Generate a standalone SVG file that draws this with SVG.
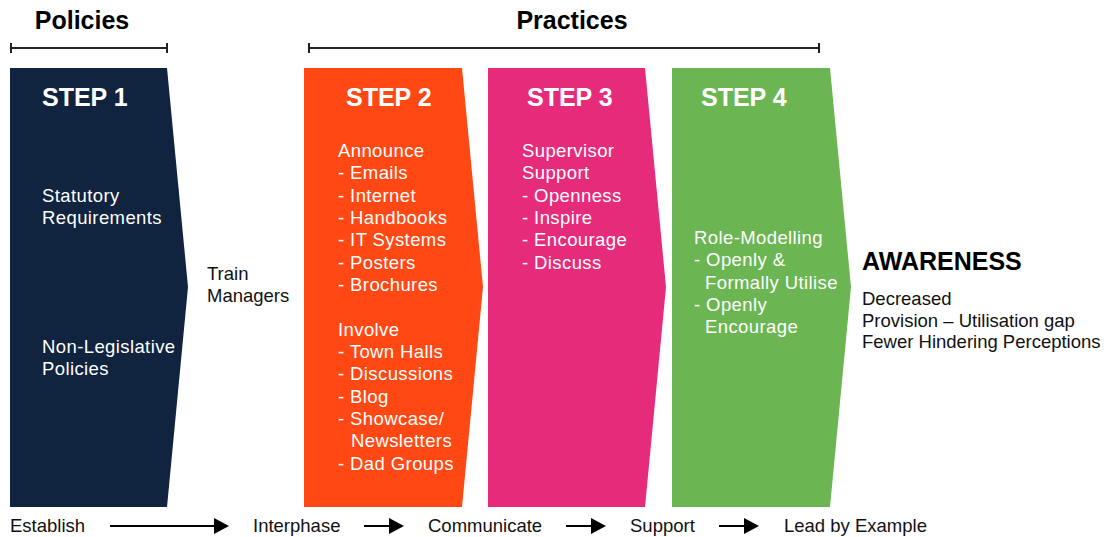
<svg xmlns="http://www.w3.org/2000/svg" width="1108" height="537" viewBox="0 0 1108 537">
<style>
text{font-family:"Liberation Sans",Arial,sans-serif}
.title{font-size:25px;font-weight:bold;fill:#000}
.step{font-size:25px;font-weight:bold;fill:#fff}
.w{font-size:18.5px;fill:#fff;letter-spacing:0.4px}
.k{font-size:18.5px;fill:#111}
.br{stroke:#222;stroke-width:2;fill:none}
.ar{stroke:#000;stroke-width:2;fill:none}
</style>
<defs>
<marker id="ah" markerWidth="15" markerHeight="16" refX="0" refY="8" orient="auto" markerUnits="userSpaceOnUse">
<path d="M0,0 L15,8 L0,16 Z" fill="#000"/>
</marker>
</defs>
<rect width="1108" height="537" fill="#fff"/>

<g id="policies">
<text class="title" x="82" y="29" text-anchor="middle">Policies</text>
<path class="br" d="M11,48 H167 M11,43 V53 M167,43 V53"/>
</g>
<g id="practices">
<text class="title" x="572" y="29" text-anchor="middle">Practices</text>
<path class="br" d="M309,48 H819 M309,43 V53 M819,43 V53"/>
</g>

<g id="step1">
<path d="M10,68 H167 L188,287 L167,507 H10 Z" fill="#10233F"/>
<text class="step" x="42" y="106">STEP 1</text>
<text class="w" x="42" y="202">Statutory</text>
<text class="w" x="42" y="224">Requirements</text>
<text class="w" x="42" y="353">Non-Legislative</text>
<text class="w" x="42" y="375">Policies</text>
</g>

<g id="interphase">
<text class="k" x="207" y="280">Train</text>
<text class="k" x="207" y="302">Managers</text>
</g>

<g id="step2">
<path d="M304,68 H462 L483,287 L462,507 H304 Z" fill="#FF4814"/>
<text class="step" x="346" y="106">STEP 2</text>
<text class="w" x="338" y="157">Announce</text>
<text class="w" x="338" y="179">- Emails</text>
<text class="w" x="338" y="202">- Internet</text>
<text class="w" x="338" y="224">- Handbooks</text>
<text class="w" x="338" y="246">- IT Systems</text>
<text class="w" x="338" y="269">- Posters</text>
<text class="w" x="338" y="291">- Brochures</text>
<text class="w" x="338" y="336">Involve</text>
<text class="w" x="338" y="358">- Town Halls</text>
<text class="w" x="338" y="380">- Discussions</text>
<text class="w" x="338" y="403">- Blog</text>
<text class="w" x="338" y="425">- Showcase/</text>
<text class="w" x="351" y="447">Newsletters</text>
<text class="w" x="338" y="470">- Dad Groups</text>
</g>

<g id="step3">
<path d="M488,68 H645 L666,287 L645,507 H488 Z" fill="#E72B7B"/>
<text class="step" x="527" y="106">STEP 3</text>
<text class="w" x="522" y="157">Supervisor</text>
<text class="w" x="522" y="179">Support</text>
<text class="w" x="522" y="202">- Openness</text>
<text class="w" x="522" y="224">- Inspire</text>
<text class="w" x="522" y="246">- Encourage</text>
<text class="w" x="522" y="269">- Discuss</text>
</g>

<g id="step4">
<path d="M672,68 H830 L851,287 L830,507 H672 Z" fill="#6BB652"/>
<text class="step" x="701" y="106">STEP 4</text>
<text class="w" x="694" y="244">Role-Modelling</text>
<text class="w" x="694" y="266">- Openly &amp;</text>
<text class="w" x="705" y="289">Formally Utilise</text>
<text class="w" x="694" y="311">- Openly</text>
<text class="w" x="705" y="333">Encourage</text>
</g>

<g id="awareness">
<text class="title" x="862" y="270">AWARENESS</text>
<text class="k" x="862" y="305">Decreased</text>
<text class="k" x="862" y="327">Provision – Utilisation gap</text>
<text class="k" x="862" y="348">Fewer Hindering Perceptions</text>
</g>

<g id="labels">
<text class="k" x="10" y="532">Establish</text>
<text class="k" x="253" y="532">Interphase</text>
<text class="k" x="428" y="532">Communicate</text>
<text class="k" x="630" y="532">Support</text>
<text class="k" x="784" y="532">Lead by Example</text>
</g>

<g id="connectors">
<line class="ar" x1="110" y1="526" x2="214" y2="526" marker-end="url(#ah)"/>
<line class="ar" x1="364" y1="526" x2="389" y2="526" marker-end="url(#ah)"/>
<line class="ar" x1="566" y1="526" x2="591" y2="526" marker-end="url(#ah)"/>
<line class="ar" x1="719" y1="526" x2="744" y2="526" marker-end="url(#ah)"/>
</g>
</svg>
